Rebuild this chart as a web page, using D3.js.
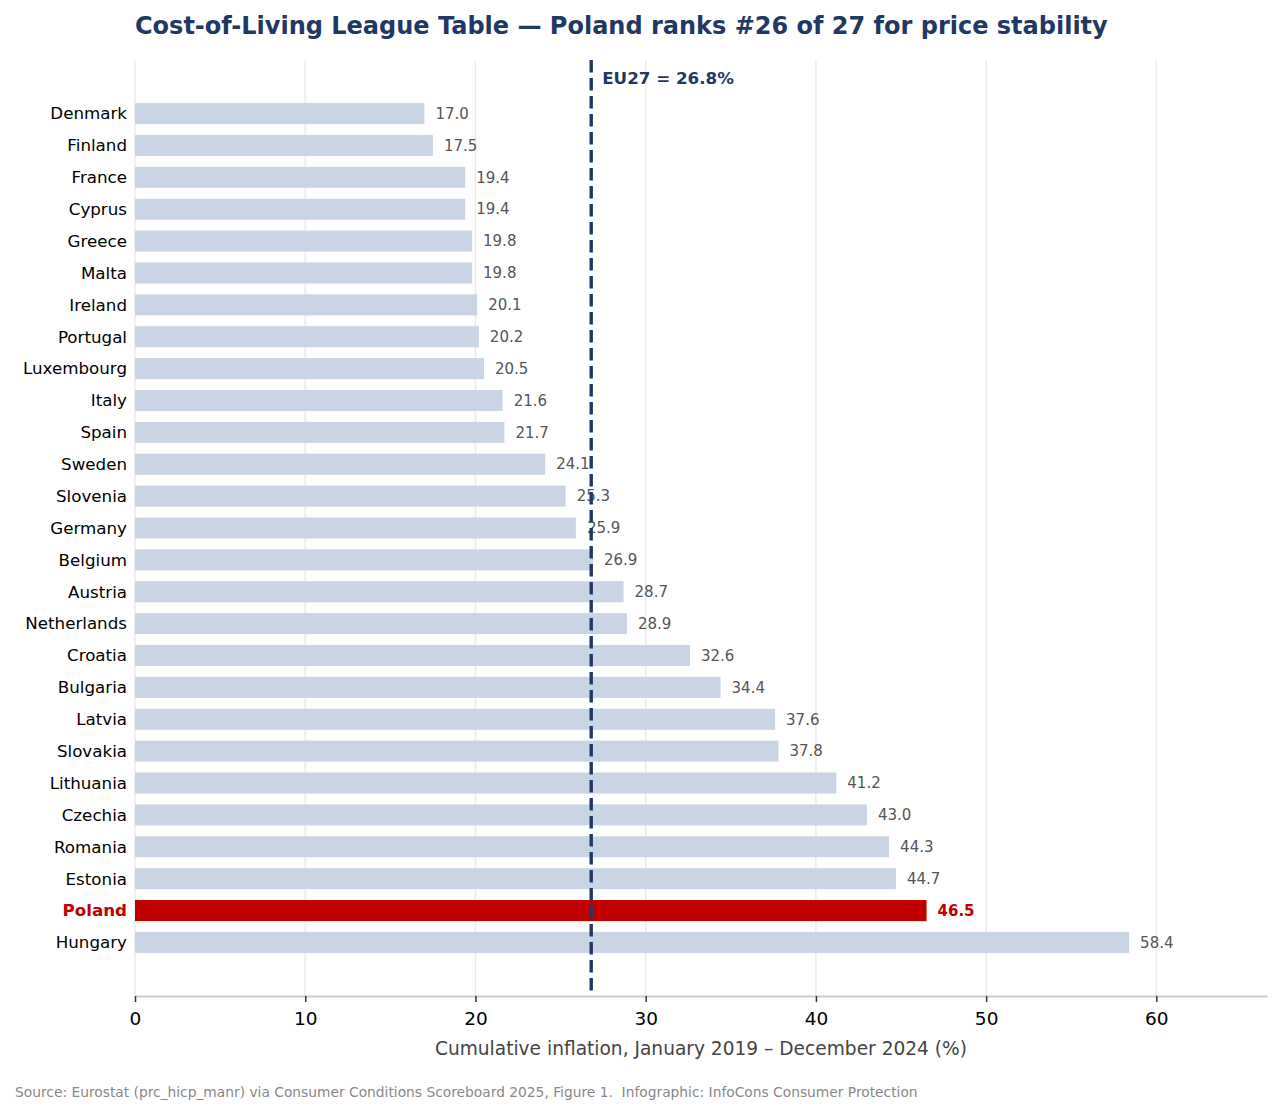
<!DOCTYPE html>
<html>
<head>
<meta charset="utf-8">
<script src="https://cdn.jsdelivr.net/npm/d3@7"></script>
<style>
  body { margin: 0; background: #fff; }
  text { font-family: "DejaVu Sans", sans-serif; }
</style>
</head>
<body>
<svg id="chart"></svg>
<script>
// Data (cumulative HICP inflation, %)
const countries = ['Denmark', 'Finland', 'France', 'Cyprus', 'Greece', 'Malta', 'Ireland', 'Portugal',
  'Luxembourg', 'Italy', 'Spain', 'Sweden', 'Slovenia', 'Germany', 'Belgium', 'Austria', 'Netherlands',
  'Croatia', 'Bulgaria', 'Latvia', 'Slovakia', 'Lithuania', 'Czechia', 'Romania', 'Estonia', 'Poland', 'Hungary'];
const values = [17.0, 17.5, 19.4, 19.4, 19.8, 19.8, 20.1, 20.2, 20.5, 21.6, 21.7, 24.1, 25.3, 25.9, 26.9,
  28.7, 28.9, 32.6, 34.4, 37.6, 37.8, 41.2, 43.0, 44.3, 44.7, 46.5, 58.4];
const xTicks = [0, 10, 20, 30, 40, 50, 60];
const euAverage = 26.8;
const highlight = 'Poland';

const width = 1282;
const height = 1115;
const margin = { top: 60, right: 15, bottom: 119, left: 135 };

const svg = d3.select('#chart')
  .attr('width', width)
  .attr('height', height);

const x = d3.scaleLinear()
  .domain([0, 66.5])
  .range([margin.left, width - margin.right]);

const y = d3.scaleBand()
  .domain(countries)
  .range([margin.top, height - margin.bottom])
  .paddingInner(0.34)
  .paddingOuter(1.35);

// Vertical grid lines
svg.append('g')
  .selectAll('line')
  .data(xTicks)
  .join('line')
  .attr('x1', d => x(d))
  .attr('x2', d => x(d))
  .attr('y1', margin.top)
  .attr('y2', height - margin.bottom)
  .attr('stroke', '#ebebeb')
  .attr('stroke-width', 1.5);

// Bars
svg.append('g')
  .selectAll('rect')
  .data(countries)
  .join('rect')
  .attr('x', x(0))
  .attr('y', d => y(d))
  .attr('width', (d, i) => x(values[i]) - x(0))
  .attr('height', y.bandwidth())
  .attr('fill', d => d === highlight ? '#c00000' : '#c9d5e5');

// Value labels
svg.append('g')
  .selectAll('text')
  .data(countries)
  .join('text')
  .attr('x', (d, i) => x(values[i]) + 11)
  .attr('y', d => y(d) + y.bandwidth() / 2)
  .attr('dy', '0.35em')
  .style('font-size', '15px')
  .style('font-weight', d => d === highlight ? 'bold' : 'normal')
  .style('fill', d => d === highlight ? '#c00000' : '#555555')
  .text((d, i) => values[i].toFixed(1));

// Country labels
svg.append('g')
  .selectAll('text')
  .data(countries)
  .join('text')
  .attr('x', margin.left - 8)
  .attr('y', d => y(d) + y.bandwidth() / 2)
  .attr('dy', '0.35em')
  .attr('text-anchor', 'end')
  .style('font-size', '16.7px')
  .style('font-weight', d => d === highlight ? 'bold' : 'normal')
  .style('fill', d => d === highlight ? '#c00000' : '#000000')
  .text(d => d);

// EU27 reference line
svg.append('line')
  .attr('x1', x(euAverage))
  .attr('x2', x(euAverage))
  .attr('y1', margin.top)
  .attr('y2', height - margin.bottom)
  .attr('stroke', '#1f3864')
  .attr('stroke-width', 3.4)
  .attr('stroke-dasharray', '12.5,5.5');

svg.append('text')
  .attr('x', x(euAverage) + 11)
  .attr('y', 84)
  .style('font-size', '16.7px')
  .style('font-weight', 'bold')
  .style('fill', '#1f3864')
  .text(`EU27 = ${euAverage}%`);

// X axis
const xAxis = svg.append('g')
  .attr('transform', `translate(0, ${height - margin.bottom})`)
  .call(d3.axisBottom(x).tickValues(xTicks).tickSize(6).tickPadding(10).tickSizeOuter(0));

xAxis.select('.domain').attr('stroke', '#cccccc').attr('stroke-width', 2);
xAxis.selectAll('.tick line').attr('stroke', '#333333').attr('stroke-width', 1.5);
xAxis.selectAll('.tick text')
  .style('font-family', '"DejaVu Sans", sans-serif')
  .style('font-size', '18.5px')
  .style('fill', '#000');

svg.append('text')
  .attr('x', (x.range()[0] + x.range()[1]) / 2)
  .attr('y', 1055)
  .attr('text-anchor', 'middle')
  .style('font-size', '18.6px')
  .style('fill', '#444444')
  .text('Cumulative inflation, January 2019 – December 2024 (%)');

// Title
svg.append('text')
  .attr('x', margin.left)
  .attr('y', 34)
  .style('font-size', '24px')
  .style('font-weight', 'bold')
  .style('fill', '#1f3864')
  .text('Cost-of-Living League Table — Poland ranks #26 of 27 for price stability');

// Source note
svg.append('text')
  .attr('x', 15)
  .attr('y', 1097)
  .attr('xml:space', 'preserve')
  .style('white-space', 'pre')
  .style('font-size', '13.8px')
  .style('fill', '#888888')
  .text('Source: Eurostat (prc_hicp_manr) via Consumer Conditions Scoreboard 2025, Figure 1.  Infographic: InfoCons Consumer Protection');
</script>
</body>
</html>
